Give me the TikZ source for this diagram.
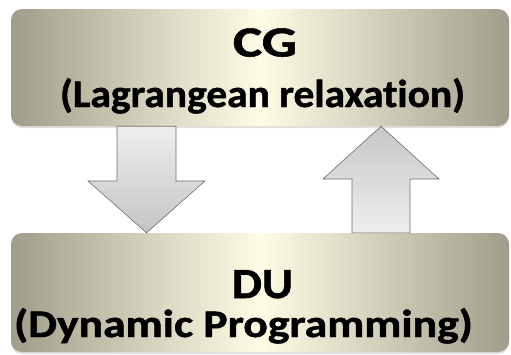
\documentclass[tikz,border=0pt]{standalone}
\usepackage{fontspec}
\setmainfont{Carlito}[Ligatures=NoCommon, BoldFeatures={FakeBold=1.2}]
\usepackage{graphicx}
\usetikzlibrary{calc,shadows}

\definecolor{boxedge}{RGB}{160,157,138}
\definecolor{boxmid}{RGB}{255,252,230}
\definecolor{arrowlight}{RGB}{238,238,238}
\definecolor{arrowdark}{RGB}{196,196,196}
\definecolor{arrowline}{RGB}{110,110,110}

\tikzset{
  panel/.style={rounded corners=11pt, minimum width=498pt, minimum height=117pt,
    inner sep=0pt, left color=boxedge, right color=boxedge, middle color=boxmid,
    drop shadow={shadow xshift=0pt, shadow yshift=-2pt, opacity=0.25}},
  headline/.style={anchor=base, inner sep=0pt, font=\bfseries\fontsize{43}{50}\selectfont},
  subline/.style={anchor=base, inner sep=0pt, font=\bfseries\fontsize{39}{46}\selectfont},
  flow/.style={draw=arrowline, line width=0.6pt, line join=miter}
}

\begin{document}
\begin{tikzpicture}[x=1pt, y=-1pt]
	\useasboundingbox (0,0) rectangle (511,354);

	% Boxes
	\node[panel] (cg) at (260,67.5) {};
	\node[panel, minimum height=119pt] (du) at (260,292.5) {};

	% Box texts
	\node[headline] (cgname) at (265,56.5) {\resizebox{64pt}{\height}{CG}};
	\node[subline] (cgmethod) at (262.5,107) {\resizebox{405pt}{\height}{(Lagrangean relaxation)}};
	\node[headline] (duname) at (262.5,298) {\resizebox{61pt}{\height}{DU}};
	\node[subline] (dumethod) at (243.5,337) {\resizebox{459pt}{\height}{(Dynamic Programming)}};

	% Down arrow
	\draw[flow, top color=arrowlight, bottom color=arrowdark]
		(117,0 |- cg.south) -- (176,0 |- cg.south) -- (176,181) -- (205,181)
		-- (146.5,0 |- du.north) -- (88,181) -- (117,181) -- cycle;

	% Up arrow
	\draw[flow, top color=arrowdark!95!white, bottom color=arrowlight]
		(352,0 |- du.north) -- (410,0 |- du.north) -- (410,179) -- (439,179)
		-- (381,0 |- cg.south) -- (323,179) -- (352,179) -- cycle;
\end{tikzpicture}
\end{document}
